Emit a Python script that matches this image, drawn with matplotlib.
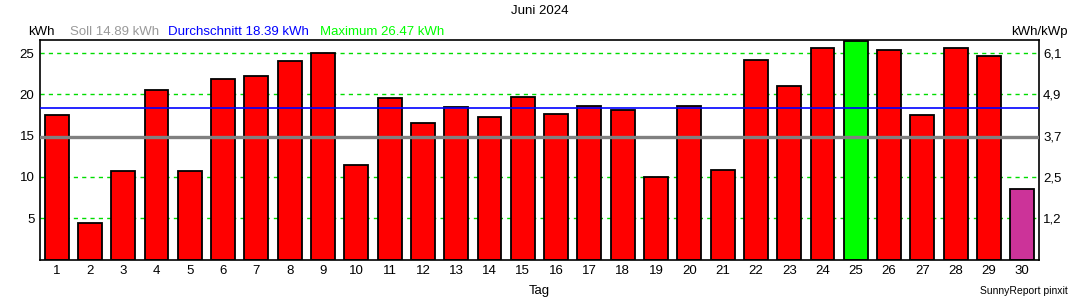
import numpy as np
import matplotlib
matplotlib.use("Agg")
import matplotlib.pyplot as plt

plt.rcParams['font.family'] = ['Liberation Sans', 'DejaVu Sans']

# daily yield, June 2024 (kWh)
days = list(range(1, 31))
kwh = [17.53, 4.43, 10.66, 20.54, 10.78, 21.87, 22.23, 24.04, 25.00, 11.39,
       19.58, 16.57, 18.49, 17.29, 19.70, 17.65, 18.61, 18.05, 9.98, 18.61,
       10.90, 24.16, 21.02, 25.60, 26.47, 25.36, 17.53, 25.60, 24.67, 8.49]
soll = 14.89
avg = 18.39
maximum = 26.47
left_ticks = [5, 10, 15, 20, 25]
right_labels = ["1,2", "2,5", "3,7", "4,9", "6,1"]

# colours: max day green, today magenta, rest red
colors = ["red"] * len(kwh)
colors[kwh.index(maximum)] = "#00ff00"
colors[-1] = "#cc3399"

fig = plt.figure(figsize=(10.8, 3.0), dpi=100)
ax = fig.add_axes([0.037, 0.135, 0.925, 0.732])

# dashed grid, the one at 15 sits under the Soll line anyway
for y in left_ticks:
    if abs(y - soll) > 1:
        ax.axhline(y, color="#00dd00", lw=1, ls=(0, (3, 3)), zorder=1)
ax.axhline(soll, color="#808080", lw=2.4, zorder=3)
ax.axhline(avg, color="#0000ff", lw=1.2, zorder=3)

ax.bar(days, kwh, width=0.72, color=colors, edgecolor="black", linewidth=1.3, zorder=2)

ax.set_xlim(0.5, 30.5)
ax.set_ylim(0, 26.6)
ax.set_xticks(days)
ax.set_xticklabels([str(d) for d in days], fontsize=9.5)
ax.set_yticks(left_ticks)
ax.set_yticklabels([str(t) for t in left_ticks], fontsize=9.5)
ax.tick_params(length=0, pad=4)
for s in ax.spines.values():
    s.set_linewidth(1.2)

ax2 = ax.twinx()
ax2.set_ylim(ax.get_ylim())
ax2.set_yticks(left_ticks)
ax2.set_yticklabels(right_labels, fontsize=9.5)
ax2.tick_params(length=0, pad=3)
for s in ax2.spines.values():
    s.set_visible(False)

ax.set_xlabel("Tag", fontsize=9.5, labelpad=6)

fig.text(0.5, 0.965, "Juni 2024", ha="center", va="center", fontsize=9.5)
fig.text(0.026, 0.893, "kWh", ha="left", va="center", fontsize=9.5)
fig.text(0.065, 0.893, "Soll 14.89 kWh", ha="left", va="center", fontsize=9.5, color="#999999")
fig.text(0.156, 0.893, "Durchschnitt 18.39 kWh", ha="left", va="center", fontsize=9.5, color="#0000ff")
fig.text(0.296, 0.893, "Maximum 26.47 kWh", ha="left", va="center", fontsize=9.5, color="#00ff00")
fig.text(0.989, 0.893, "kWh/kWp", ha="right", va="center", fontsize=9.5)
fig.text(0.989, 0.03, "SunnyReport pinxit", ha="right", va="center", fontsize=7.5)

fig.savefig("out.png", dpi=100)
